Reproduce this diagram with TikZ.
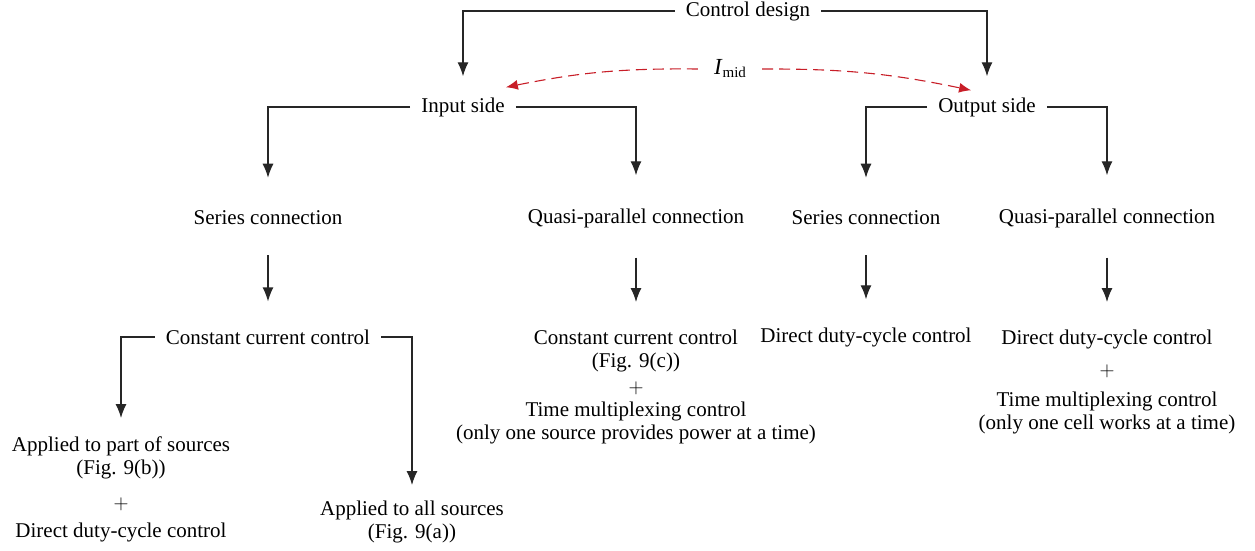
\documentclass[tikz,border=0pt]{standalone}
\usepackage{fontspec}
\setmainfont{Liberation Serif}
\usetikzlibrary{arrows.meta,positioning}
\definecolor{midred}{RGB}{200,30,40}

\tikzset{
  lbl/.style={font=\fontsize{21}{23}\selectfont, align=center, inner xsep=11pt, inner ysep=3pt},
  arr/.style={draw=black!85, line width=1.2pt, -{Latex[length=14pt,width=11pt]}},
  midarr/.style={draw=midred, line width=1.1pt, dash pattern=on 11pt off 6pt, -{Latex[length=12pt,width=10pt]}}
}

\begin{document}
\begin{tikzpicture}[x=1pt,y=1pt]
  \useasboundingbox (0,0) rectangle (1255,550);
  % levels
  \node [lbl] (ctrl) at (748,539) {Control design};
  \node [lbl, inner xsep=16pt] (imid) at (730,481) {{\fontsize{23}{23}\selectfont\textit{I}}\raisebox{-3pt}{\fontsize{15}{15}\selectfont mid}};
  \node [lbl] (inp) at (463,443) {Input side};
  \node [lbl] (out) at (987,443) {Output side};
  \node [lbl] (ser1) at (268,332) {Series connection};
  \node [lbl] (qp1) at (636,332) {Quasi-parallel connection};
  \node [lbl] (ser2) at (866,332) {Series connection};
  \node [lbl] (qp2) at (1107,332) {Quasi-parallel connection};
  \node [lbl] (cc1) at (268,213) {Constant current control};
  \node [lbl, anchor=north] (cc2) at (636,223) {Constant current control\\(Fig. 9(c))\\[3pt]$+$\\Time multiplexing control\\(only one source provides power at a time)};
  \node [lbl] (dd1) at (866,213) {Direct duty-cycle control};
  \node [lbl, anchor=north] (dd2) at (1107,223) {Direct duty-cycle control\\[9pt]$+$\\[7pt]Time multiplexing control\\(only one cell works at a time)};
  \node [lbl, anchor=north] (part) at (121,116) {Applied to part of sources\\(Fig. 9(b))\\[12pt]$+$\\[5pt]Direct duty-cycle control};
  \node [lbl, anchor=north] (all) at (412,52) {Applied to all sources\\(Fig. 9(a))};

  \draw [arr, shorten >=18pt] (ctrl.west) -| (inp.north);
  \draw [arr, shorten >=18pt] (ctrl.east) -| (out.north);
  \draw [midarr] (imid.west) to [bend right=6] ([shift={(-10pt,7pt)}]inp.north east);
  \draw [midarr] (imid.east) to [bend left=6] ([shift={(44pt,4pt)}]out.north west);

  \draw [arr, shorten >=30pt] (inp.west) -| (ser1.north);
  \draw [arr, shorten >=30pt] (inp.east) -| (qp1.north);
  \draw [arr, shorten >=30pt] (out.west) -| (ser2.north);
  \draw [arr, shorten >=30pt] (out.east) -| (qp2.north);

  \draw [arr, shorten <=27pt, shorten >=25pt] (ser1) -- (cc1);
  \draw [arr, shorten <=27pt, shorten >=25pt] (qp1) -- (cc2);
  \draw [arr, shorten <=27pt, shorten >=25pt] (ser2) -- (dd1);
  \draw [arr, shorten <=27pt, shorten >=25pt] (qp2) -- (dd2);

  \draw [arr, shorten >=16pt] (cc1.west) -| (part.north);
  \draw [arr, shorten >=13pt] (cc1.east) -| (all.north);
\end{tikzpicture}
\end{document}
